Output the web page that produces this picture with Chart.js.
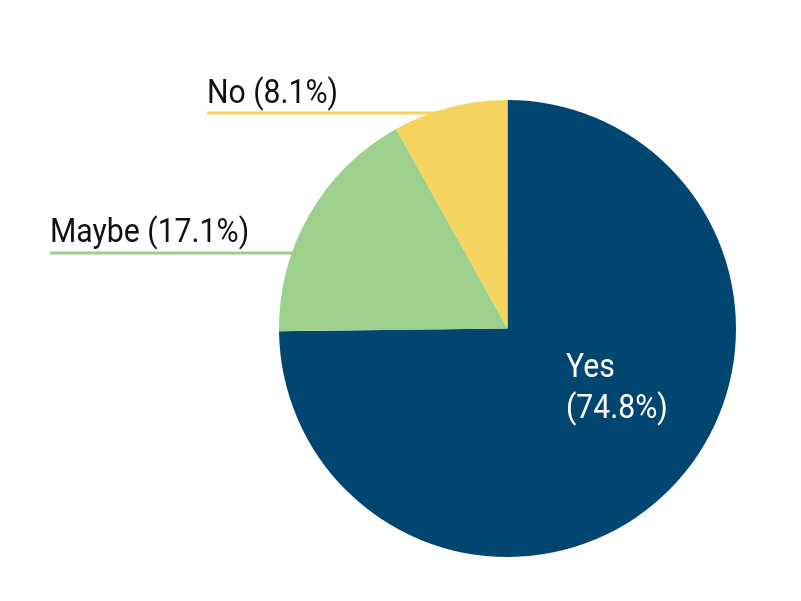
<!DOCTYPE html>
<html>
<head>
<meta charset="utf-8">
<script src="https://cdn.jsdelivr.net/npm/chart.js@4.4.0/dist/chart.umd.min.js"></script>
<style>
    html, body { margin: 0; padding: 0; background: #ffffff; }
    #wrap { width: 801px; height: 601px; }
</style>
</head>
<body>
<div id="wrap"><canvas id="chart" width="801" height="601"></canvas></div>
<script>
var categories = ['Yes', 'Maybe', 'No'];
var shares = [74.8, 17.1, 8.1];
var sliceColors = ['#004670', '#9dcf8d', '#f4d35e'];

// label left x, baseline y, leader line y (leader runs into the slice)
var callouts = [
    null,
    { x: 50, y: 242, lineY: 253 },
    { x: 207, y: 103, lineY: 113 }
];

// squeeze the text a bit, the original uses a condensed face
var squeeze = 0.915;

function pct(v) {
    return '(' + v.toFixed(1) + '%)';
}

var labelPlugin = {
    id: 'sliceLabels',
    beforeDatasetsDraw: function (chart) {
        var ctx = chart.ctx;
        var arcs = chart.getDatasetMeta(0).data;
        ctx.save();
        ctx.lineWidth = 3;
        callouts.forEach(function (c, i) {
            if (!c) return;
            ctx.strokeStyle = sliceColors[i];
            ctx.beginPath();
            ctx.moveTo(c.x, c.lineY);
            ctx.lineTo(arcs[i].x, c.lineY);
            ctx.stroke();
        });
        ctx.restore();
    },
    afterDraw: function (chart) {
        var ctx = chart.ctx;
        ctx.save();
        ctx.scale(squeeze, 1);
        ctx.font = '33px Roboto';
        ctx.textBaseline = 'alphabetic';
        ctx.textAlign = 'left';
        callouts.forEach(function (c, i) {
            if (!c) return;
            ctx.fillStyle = '#111111';
            ctx.fillText(categories[i] + ' ' + pct(shares[i]), c.x / squeeze, c.y);
        });
        // the big slice is labelled inside
        ctx.fillStyle = '#ffffff';
        ctx.fillText(categories[0], 566 / squeeze, 377);
        ctx.fillText(pct(shares[0]), 566 / squeeze, 418);
        ctx.restore();
    }
};

new Chart(document.getElementById('chart'), {
    type: 'pie',
    data: {
        labels: categories,
        datasets: [{
            data: shares,
            backgroundColor: sliceColors,
            borderWidth: 0
        }]
    },
    options: {
        responsive: false,
        animation: false,
        layout: {
            padding: { top: 100, bottom: 44, left: 279, right: 65 }
        },
        plugins: {
            legend: { display: false },
            tooltip: { enabled: false }
        }
    },
    plugins: [labelPlugin]
});
</script>
</body>
</html>
